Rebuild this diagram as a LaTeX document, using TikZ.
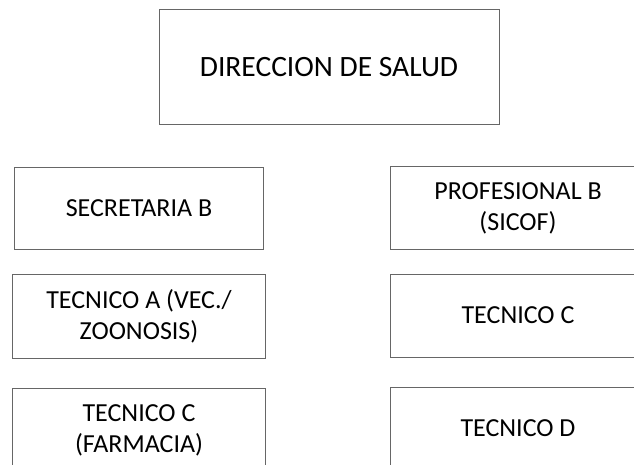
\documentclass[tikz,border=0pt]{standalone}
\usepackage{fontspec}
\setmainfont{Carlito}
\usetikzlibrary{positioning}

\begin{document}
\begin{tikzpicture}[x=1pt, y=1pt,
    cargo/.style={draw=black!60, line width=1pt, align=center, inner sep=0pt,
        minimum width=250pt, minimum height=82pt, font=\fontsize{26}{31}\selectfont}]
    \clip (0,0) rectangle (634,-465);

    \node[cargo, minimum width=340pt, minimum height=115pt,
          font=\fontsize{29.5}{35}\selectfont] (dir) at (329,-67.5) {DIRECCION DE SALUD};

    % columna izquierda
    \node[cargo, minimum width=249pt, minimum height=81pt] (sec) at (139,-208.5) {SECRETARIA B};
    \node[cargo, minimum width=253pt, minimum height=84pt] (tecA) [below=24pt of sec] {TECNICO A (VEC./\\ZOONOSIS)};
    \node[cargo, minimum width=253pt, minimum height=84pt] (tecCf) [below=29pt of tecA] {TECNICO C\\(FARMACIA)};

    % columna derecha
    \node[cargo, minimum width=256pt] (prof) at (518,-208) {PROFESIONAL B\\(SICOF)};
    \node[cargo, minimum width=256pt, minimum height=83pt] (tecC) [below=24pt of prof] {TECNICO C};
    \node[cargo, minimum width=256pt, minimum height=83pt] (tecD) [below=29pt of tecC] {TECNICO D};
\end{tikzpicture}
\end{document}
